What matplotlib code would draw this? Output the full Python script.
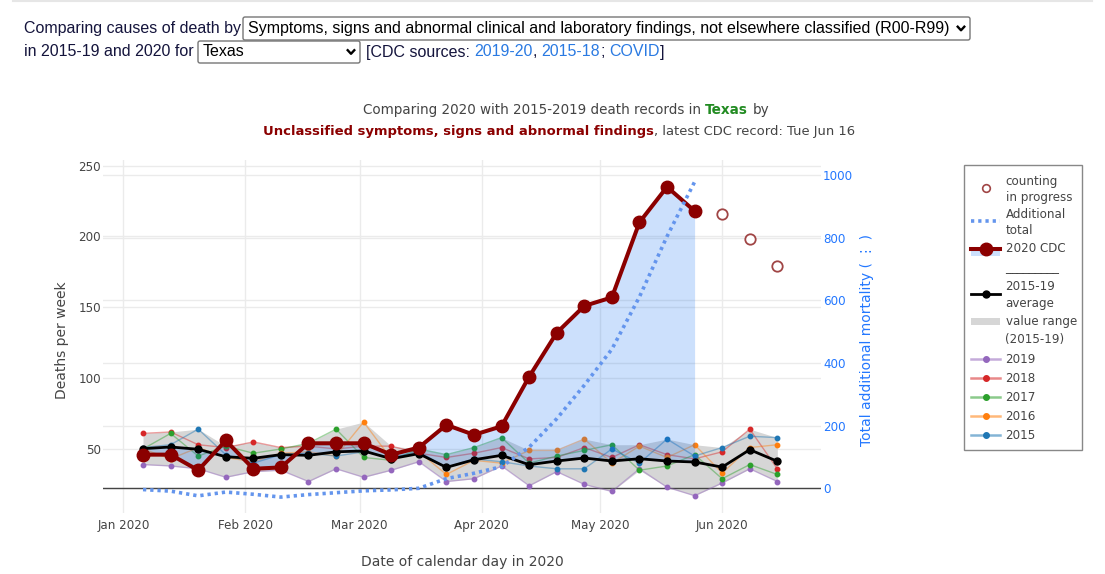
import matplotlib
matplotlib.use("Agg")
import matplotlib.pyplot as plt
import matplotlib.transforms as mtransforms
from matplotlib.lines import Line2D
from matplotlib.patches import Rectangle, FancyBboxPatch
import matplotlib.dates as mdates
import pandas as pd

W, H = 1105, 574

# week dates (one point per CDC week)
weeks = pd.to_datetime([
    "2020-01-06", "2020-01-13", "2020-01-20", "2020-01-27", "2020-02-03", "2020-02-10",
    "2020-02-17", "2020-02-24", "2020-03-02", "2020-03-09", "2020-03-16", "2020-03-23",
    "2020-03-30", "2020-04-06", "2020-04-13", "2020-04-20", "2020-04-27", "2020-05-04",
    "2020-05-11", "2020-05-18", "2020-05-25", "2020-06-01", "2020-06-08", "2020-06-15"])

y2015 = [51, 53, 64, 46, 40, 46, 47, 45, 48, 44, 48, 37, 43, 41, 38, 36, 36, 50, 40, 57, 45, 51, 59, 58]
y2016 = [50, 43, 51, 44, 41, 47, 48, 45, 69, 43, 48, 32, 42, 40, 49, 49, 57, 40, 52, 44, 53, 33, 51, 53]
y2017 = [50, 61, 45, 52, 47, 50, 54, 64, 44, 42, 50, 46, 51, 58, 40, 45, 49, 53, 35, 38, 46, 29, 39, 32]
y2018 = [61, 62, 53, 51, 55, 51, 52, 50, 52, 52, 47, 44, 47, 51, 43, 44, 51, 44, 53, 46, 43, 48, 64, 36]
y2019 = [39, 38, 36, 30, 34, 35, 27, 36, 30, 35, 41, 27, 29, 38, 24, 34, 25, 20, 36, 23, 17, 26, 36, 27]
avg = [50.2, 51.4, 49.8, 44.5, 43.4, 46.0, 45.5, 48.0, 48.6, 43.1, 46.7, 37.0,
       42.4, 45.5, 38.9, 41.5, 43.6, 41.5, 43.1, 41.5, 40.8, 37.2, 49.5, 41.3]
cdc2020 = [46, 46, 35, 56, 36, 37, 54, 54, 54, 46, 51, 67, 60, 66, 101, 132, 151, 157, 210, 235, 218]
counting = [216, 198, 179]
extra_total = [-4, -9, -24, -12, -19, -28, -20, -14, -8, -5, 0, 31, 48, 69, 131, 222, 329, 444, 611, 804, 978]

years = [("2019", y2019, "#9467bd"), ("2018", y2018, "#d62728"), ("2017", y2017, "#2ca02c"),
         ("2016", y2016, "#ff7f0e"), ("2015", y2015, "#1f77b4")]

month_ticks = pd.to_datetime(["2020-01-01", "2020-02-01", "2020-03-01",
                              "2020-04-01", "2020-05-01", "2020-06-01"])

GREY = "#444444"
DARKRED = "#8b0000"
FILLBLUE = (0, 100 / 255, 240 / 255)
DOTBLUE = "#6495ed"
AXBLUE = "#2277ff"
LINKBLUE = "#2a7ae2"

plt.rcParams['font.family'] = ['DejaVu Sans']

fig = plt.figure(figsize=(W / 100, H / 100), dpi=100)
pix = mtransforms.Affine2D().scale(1 / W, -1 / H).translate(0, 1) + fig.transFigure

L, R, T, B = 103.3, 821, 160, 513
ax = fig.add_axes([L / W, 1 - B / H, (R - L) / W, (B - T) / H])
ax2 = ax.twinx()
ax.set_zorder(ax2.get_zorder() + 1)
ax.patch.set_visible(False)

# value range band + single years
lo = [min(v) for v in zip(y2015, y2016, y2017, y2018, y2019)]
hi = [max(v) for v in zip(y2015, y2016, y2017, y2018, y2019)]
ax.fill_between(weeks, lo, hi, color="#d6d6d6", lw=0, zorder=1)
for name, vals, c in years:
    ax.plot(weeks, vals, color=matplotlib.colors.to_rgba(c, 0.45), lw=1,
            marker='o', ms=3.2, mfc=c, mec=c, zorder=2)

n = len(cdc2020)
ax.fill_between(weeks[:n], avg[:n], cdc2020, color=FILLBLUE, alpha=0.2, lw=0, zorder=3)
ax.plot(weeks, avg, color='black', lw=2, marker='o', ms=5, zorder=4)
ax.plot(weeks[:n], cdc2020, color=DARKRED, lw=2.9, marker='o', ms=9, zorder=5)
ax.plot(weeks[n:], counting, ls='none', marker='o', ms=7.5, mfc='white',
        mec="#a04545", mew=1.3, zorder=5)

# additional total on the right scale, drawn above the other traces
ax.plot(weeks[:n], extra_total, transform=ax2.transData, color=DOTBLUE, lw=2.6,
        ls=(0, (0.9, 1.1)), zorder=6)
ax.add_line(Line2D([0, 1], [0, 0], color=GREY, lw=1, zorder=1.5,
                   transform=mtransforms.blended_transform_factory(ax.transAxes, ax2.transData)))

ax.set_xlim(pd.Timestamp("2019-12-26 22:00"), pd.Timestamp("2020-06-26 02:00"))
ax.set_ylim(4.8, 254.0)
ax2.set_ylim(-78.8, 1047.9)
ax.set_xticks(month_ticks)
ax.xaxis.set_major_formatter(mdates.DateFormatter('%b %Y'))
ax.set_yticks([50, 100, 150, 200, 250])
ax2.set_yticks([0, 200, 400, 600, 800, 1000])

ax.set_axisbelow(True)
ax.grid(True, color="#ebebeb", lw=1)
ax2.grid(True, axis='y', color="#ebebeb", lw=1)
for a in (ax, ax2):
    for s in a.spines.values():
        s.set_visible(False)
ax.tick_params(axis='x', length=0, colors=GREY, labelsize=8.6, pad=4)
ax.tick_params(axis='y', length=0, colors=GREY, labelsize=8.6, pad=1.5)
ax2.tick_params(axis='y', length=0, colors=AXBLUE, labelsize=8.6, pad=1.5)

fig.text(462 / W, 1 - 562 / H, "Date of calendar day in 2020", ha='center', va='center',
         fontsize=10, color=GREY)
fig.text(62 / W, 1 - 340 / H, "Deaths per week", ha='center', va='center', rotation=90,
         fontsize=10, color=GREY)
fig.text(867 / W, 1 - 340 / H, "Total additional mortality ( \u22ee )", ha='center', va='center',
         rotation=90, fontsize=10, color=AXBLUE, family=['DejaVu Sans'])

renderer = fig.canvas.get_renderer()


def text_row(pieces, x, y, size, family, center=False):
    # pieces: (text, color, weight, space_before)
    arts, widths = [], []
    for txt, color, weight, sp in pieces:
        t = fig.text(0, 0, txt, transform=pix, ha='left', va='center', color=color,
                     fontweight=weight, fontsize=size, family=family)
        arts.append(t)
        widths.append(t.get_window_extent(renderer).width)
    a = fig.text(0, 0, "a a", fontsize=size, family=family)
    b = fig.text(0, 0, "aa", fontsize=size, family=family)
    sp_w = a.get_window_extent(renderer).width - b.get_window_extent(renderer).width
    a.remove()
    b.remove()
    total = sum(widths) + sp_w * sum(1 for p in pieces if p[3])
    cur = x - total / 2 if center else x
    for t, w, p in zip(arts, widths, pieces):
        if p[3]:
            cur += sp_w
        t.set_position((cur, y))
        cur += w


# chart title
text_row([("Comparing 2020 with 2015-2019 death records in", GREY, 'normal', False),
          ("Texas", "#228b22", 'bold', True),
          ("by", GREY, 'normal', True)], 566, 110, 9.75, ['DejaVu Sans'], center=True)
text_row([("Unclassified symptoms, signs and abnormal findings", DARKRED, 'bold', False),
          (", latest CDC record: Tue Jun 16", GREY, 'normal', False)],
         559, 132, 9.45, ['DejaVu Sans'], center=True)

# page controls above the chart
NAVY = "#14143c"
HF = ['Liberation Sans', 'DejaVu Sans']


def select_box(x0, y0, x1, y1, label):
    fig.patches.append(FancyBboxPatch((x0, y0), x1 - x0, y1 - y0,
                                      boxstyle="round,pad=0,rounding_size=2", transform=pix,
                                      fc='white', ec='#767676', lw=1))
    fig.text(x0 + 5, (y0 + y1) / 2, label, transform=pix, ha='left', va='center',
             fontsize=11.5, family=HF, color='black')
    cx, cy = x1 - 9, (y0 + y1) / 2
    fig.lines.append(Line2D([cx - 3.3, cx, cx + 3.3], [cy - 1.8, cy + 1.8, cy - 1.8],
                            transform=pix, color='black', lw=1.7))


fig.lines.append(Line2D([13, 1092], [1, 1], transform=pix, color='#e6e6e6', lw=1.5))
fig.text(24, 29, "Comparing causes of death by", transform=pix, ha='left', va='center',
         fontsize=11.5, family=HF, color=NAVY)
select_box(243, 17, 970, 40,
           "Symptoms, signs and abnormal clinical and laboratory findings, not elsewhere classified (R00-R99)")
fig.text(24, 52, "in 2015-19 and 2020 for", transform=pix, ha='left', va='center',
         fontsize=11.5, family=HF, color=NAVY)
select_box(198, 41, 360, 63, "Texas")
text_row([("[CDC sources:", NAVY, 'normal', False),
          ("2019-20", LINKBLUE, 'normal', True),
          (",", NAVY, 'normal', False),
          ("2015-18", LINKBLUE, 'normal', True),
          (";", NAVY, 'normal', False),
          ("COVID", LINKBLUE, 'normal', True),
          ("]", NAVY, 'normal', False)], 366, 52, 11.5, HF)

# legend box
fig.patches.append(Rectangle((964, 165), 118, 285, transform=pix, fc='white', ec='#888888', lw=1))
sx0, sx1, sxc, tx = 971, 1000, 985.5, 1005.5
LF = 8.6


def leg_text(y, s):
    fig.text(tx, y, s, transform=pix, ha='left', va='center', fontsize=LF, color=GREY)


fig.lines.append(Line2D([sxc], [188], transform=pix, ls='none', marker='o', ms=5.5,
                        mfc='white', mec="#a04545", mew=1.2))
leg_text(181, "counting")
leg_text(197, "in progress")
fig.lines.append(Line2D([sx0, sx1], [221, 221], transform=pix, color=DOTBLUE, lw=2.6,
                        ls=(0, (0.9, 1.1))))
leg_text(214, "Additional")
leg_text(230, "total")
fig.patches.append(Rectangle((sx0, 249), sx1 - sx0, 6.5, transform=pix,
                             fc=FILLBLUE, alpha=0.2, lw=0))
fig.lines.append(Line2D([sx0, sx1], [249.3, 249.3], transform=pix, color=DARKRED, lw=2.9))
fig.lines.append(Line2D([sxc], [249.3], transform=pix, ls='none', marker='o', ms=9,
                        color=DARKRED))
leg_text(249, "2020 CDC")
fig.text(tx, 271, "_________", transform=pix, ha='left', va='baseline', fontsize=LF, color=GREY)
fig.lines.append(Line2D([sx0, sx1], [294.3, 294.3], transform=pix, color='black', lw=2))
fig.lines.append(Line2D([sxc], [294.3], transform=pix, ls='none', marker='o', ms=5, color='black'))
leg_text(286.5, "2015-19")
leg_text(303, "average")
fig.patches.append(Rectangle((sx0, 317.5), sx1 - sx0, 7.5, transform=pix, fc="#d6d6d6", lw=0))
leg_text(322, "value range")
leg_text(340, "(2015-19)")
for i, (name, vals, c) in enumerate(years):
    yy = 359.3 + 19 * i
    fig.lines.append(Line2D([sx0, sx1], [yy, yy], transform=pix,
                            color=matplotlib.colors.to_rgba(c, 0.55), lw=1.8))
    fig.lines.append(Line2D([sxc], [yy], transform=pix, ls='none', marker='o', ms=4, color=c))
    leg_text(yy, name)

fig.savefig("out.png", dpi=100)
